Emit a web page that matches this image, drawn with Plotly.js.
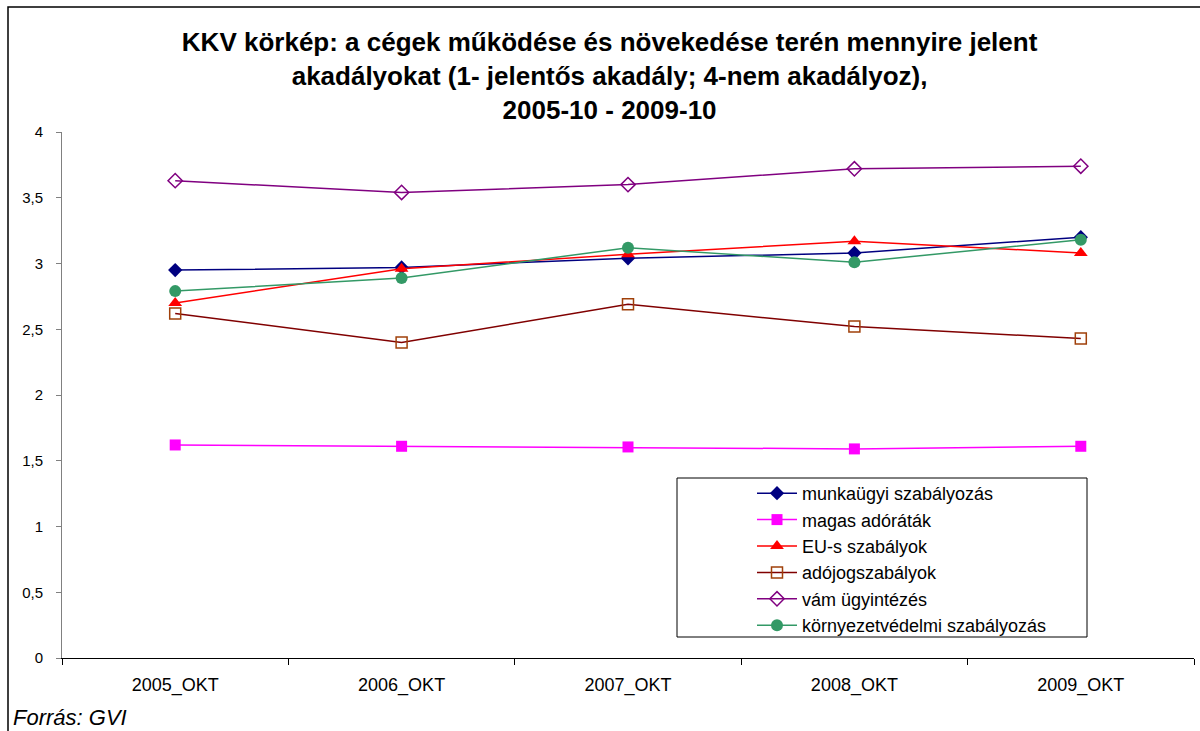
<!DOCTYPE html>
<html>
<head>
<meta charset="utf-8">
<script src="https://cdn.plot.ly/plotly-3.0.1.min.js"></script>
<style>html,body{margin:0;padding:0;background:#fff;}#chart{width:1200px;height:731px;}</style>
</head>
<body>
<div id="chart"></div>
<script>
const categories = ["2005_OKT", "2006_OKT", "2007_OKT", "2008_OKT", "2009_OKT"];
const munkaugyi = [2.95, 2.97, 3.04, 3.08, 3.20];
const magasAdorata = [1.62, 1.61, 1.605, 1.59, 1.61];
const euSzabalyok = [2.70, 2.96, 3.07, 3.17, 3.08];
const adojog = [2.62, 2.40, 2.69, 2.52, 2.43];
const vam = [3.63, 3.54, 3.60, 3.72, 3.74];
const kornyezet = [2.79, 2.89, 3.12, 3.01, 3.18];
const seriesNames = ["munkaügyi szabályozás", "magas adóráták", "EU-s szabályok", "adójogszabályok", "vám ügyintézés", "környezetvédelmi szabályozás"];
const yTickVals = [0, 0.5, 1, 1.5, 2, 2.5, 3, 3.5, 4];
const yTickText = ["0", "0,5", "1", "1,5", "2", "2,5", "3", "3,5", "4"];

function tr(y, name, lineColor, symbol, size, mColor, lineW, fill) {
  return {
    x: categories, y: y, name: name, type: 'scatter', mode: 'lines+markers',
    line: {color: lineColor, width: 1.5},
    marker: {symbol: symbol, size: size, color: fill || mColor, line: {color: mColor, width: lineW}}
  };
}

const data = [
  tr(munkaugyi, seriesNames[0], '#000080', 'diamond', 11, '#000080', 0),
  tr(magasAdorata, seriesNames[1], '#FF00FF', 'square', 11, '#FF00FF', 0),
  tr(euSzabalyok, seriesNames[2], '#FF0000', 'triangle-up', 12, '#FF0000', 0),
  tr(adojog, seriesNames[3], '#800000', 'square-open', 11, '#A0400A', 1.5),
  tr(vam, seriesNames[4], '#800080', 'diamond-open', 11, '#800080', 1.5),
  tr(kornyezet, seriesNames[5], '#339966', 'circle', 12, '#339966', 0)
];

const PW = 1132, PH = 526, L = 62, T = 132;
function px(x) { return (x - L) / PW; }
function py(y) { return (T + PH - y) / PH; }

const layout = {
  width: 1200, height: 731,
  margin: {l: 62, r: 6, t: 132, b: 73},
  paper_bgcolor: '#ffffff', plot_bgcolor: '#ffffff',
  font: {family: 'Liberation Sans, Arial, sans-serif', color: '#000000', size: 15},
  title: {
    text: 'KKV körkép: a cégek működése és növekedése terén mennyire jelent<br>akadályokat (1- jelentős akadály; 4-nem akadályoz),<br>2005-10 - 2009-10',
    font: {family: 'Liberation Sans, Arial, sans-serif', size: 26, color: '#000000', weight: 'bold'},
    x: 0.508, xanchor: 'center', y: 1 - 51 / 731, yanchor: 'middle'
  },
  xaxis: {
    type: 'category', tickson: 'boundaries', ticks: 'outside', ticklen: 6, tickcolor: '#000000',
    showline: true, linecolor: '#000000', linewidth: 1, showgrid: false, zeroline: false,
    tickfont: {size: 18}, ticklabelstandoff: 10, range: [-0.5, 4.5]
  },
  yaxis: {
    range: [0, 4], tickvals: yTickVals, ticktext: yTickText, ticks: 'outside', ticklen: 5,
    tickcolor: '#808080', showline: true, linecolor: '#808080', linewidth: 1,
    showgrid: false, zeroline: false, tickfont: {size: 15}, ticklabelstandoff: 10
  },
  showlegend: true,
  legend: {
    x: px(752), y: py(475), xanchor: 'left', yanchor: 'top',
    borderwidth: 0, bgcolor: 'rgba(255,255,255,0)',
    font: {size: 18}, tracegroupgap: 0, itemwidth: 40
  },
  shapes: [
    {type: 'rect', xref: 'paper', yref: 'paper', x0: px(677), x1: px(1087), y0: py(637), y1: py(478),
     line: {color: '#000000', width: 1}, fillcolor: '#ffffff', layer: 'above'},
    {type: 'rect', xref: 'paper', yref: 'paper', x0: px(8), x1: px(1215), y0: py(745), y1: py(7),
     line: {color: '#000000', width: 1.5}, fillcolor: 'rgba(0,0,0,0)'}
  ],
  annotations: [{
    text: '<i>Forrás: GVI</i>', xref: 'paper', yref: 'paper', x: px(11), y: py(717),
    xanchor: 'left', yanchor: 'middle', showarrow: false, font: {size: 22}
  }]
};

Plotly.newPlot('chart', data, layout, {displayModeBar: false, staticPlot: true});
</script>
</body>
</html>
